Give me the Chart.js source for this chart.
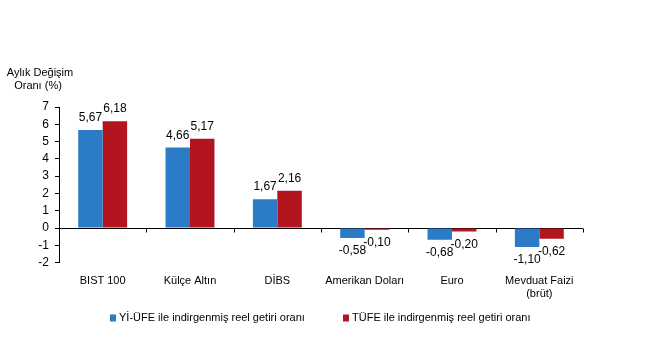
<!DOCTYPE html>
<html>
<head>
<meta charset="utf-8">
<script src="https://cdn.jsdelivr.net/npm/chart.js@4"></script>
<style>
  html, body { margin: 0; padding: 0; background: #fff; }
  #wrap { width: 650px; height: 360px; position: relative; }
</style>
</head>
<body>
<div id="wrap"><canvas id="grafik"></canvas></div>
<script>
const categories = ['BIST 100', 'Külçe Altın', 'DİBS', 'Amerikan Doları', 'Euro', ['Mevduat Faizi', '(brüt)']];
const yiUfeValues = [5.67, 4.66, 1.67, -0.58, -0.68, -1.10];
const tufeValues = [6.18, 5.17, 2.16, -0.10, -0.20, -0.62];
const seriesNames = ['Yİ-ÜFE ile indirgenmiş reel getiri oranı', 'TÜFE ile indirgenmiş reel getiri oranı'];
const yTicks = [-2, -1, 0, 1, 2, 3, 4, 5, 6, 7];
const yTitle = ['Aylık Değişim', 'Oranı (%)'];

const FONT = 'Liberation Sans, Arial, sans-serif';

// data labels, y-axis title, legend and little ticks on the zero line
const extras = {
    id: 'extras',
    afterDatasetsDraw(chart) {
        const ctx = chart.ctx;
        ctx.save();
        ctx.font = '12px ' + FONT;
        ctx.fillStyle = '#000';
        ctx.textAlign = 'center';
        ctx.textBaseline = 'middle';
        chart.data.datasets.forEach((ds, di) => {
            chart.getDatasetMeta(di).data.forEach((bar, i) => {
                const v = ds.data[i];
                const txt = v.toFixed(2).replace('.', ',');
                const y = v >= 0 ? bar.y - 12 : bar.y + 13;
                ctx.fillText(txt, bar.x, y);
            });
        });

        const area = chart.chartArea;
        const zeroY = Math.round(chart.scales.y.getPixelForValue(0)) + 0.5;
        ctx.strokeStyle = '#000';
        ctx.lineWidth = 1;
        const n = categories.length;
        for (let i = 1; i <= n; i++) {
            const x = Math.round(area.left + i * (area.right - area.left) / n) + 0.5;
            ctx.beginPath();
            ctx.moveTo(x, zeroY);
            ctx.lineTo(x, zeroY + 4);
            ctx.stroke();
        }

        ctx.font = '11px ' + FONT;
        ctx.fillText(yTitle[0], 40, 73);
        ctx.fillText(yTitle[1], 38, 86);

        // legend
        const legendX = [110, 343];
        const legendY = 318;
        ctx.textAlign = 'left';
        chart.data.datasets.forEach((ds, di) => {
            ctx.fillStyle = ds.backgroundColor;
            ctx.fillRect(legendX[di], legendY - 3.5, 6, 7);
            ctx.fillStyle = '#000';
            ctx.fillText(ds.label, legendX[di] + 9, legendY);
        });
        ctx.restore();
    }
};

const ctx = document.getElementById('grafik').getContext('2d');
new Chart(ctx, {
    type: 'bar',
    data: {
        labels: categories,
        datasets: [
            {
                label: seriesNames[0],
                data: yiUfeValues,
                backgroundColor: '#2b7bc6',
                borderWidth: 0,
                categoryPercentage: 0.56,
                barPercentage: 1
            },
            {
                label: seriesNames[1],
                data: tufeValues,
                backgroundColor: '#b2151d',
                borderWidth: 0,
                categoryPercentage: 0.56,
                barPercentage: 1
            }
        ]
    },
    options: {
        responsive: true,
        maintainAspectRatio: false,
        animation: false,
        layout: {
            padding: { top: 107, right: 67, left: 0, bottom: 55 }
        },
        plugins: {
            legend: { display: false },
            tooltip: { enabled: false }
        },
        scales: {
            x: {
                grid: { display: false },
                border: { display: false },
                ticks: {
                    color: '#000',
                    padding: 4,
                    maxRotation: 0,
                    autoSkip: false,
                    font: { family: FONT, size: 11 }
                }
            },
            y: {
                min: -2,
                max: 7,
                afterBuildTicks: axis => {
                    axis.ticks = yTicks.map(v => ({ value: v }));
                },
                afterFit: axis => {
                    axis.width = 59;
                },
                border: { display: true, color: '#000', width: 1 },
                grid: {
                    color: c => c.tick && c.tick.value === 0 ? '#000' : 'rgba(0,0,0,0)',
                    tickColor: '#000',
                    tickLength: 4,
                    lineWidth: 1
                },
                ticks: {
                    color: '#000',
                    padding: 6,
                    autoSkip: false,
                    font: { family: FONT, size: 12 }
                }
            }
        }
    },
    plugins: [extras]
});
</script>
</body>
</html>
